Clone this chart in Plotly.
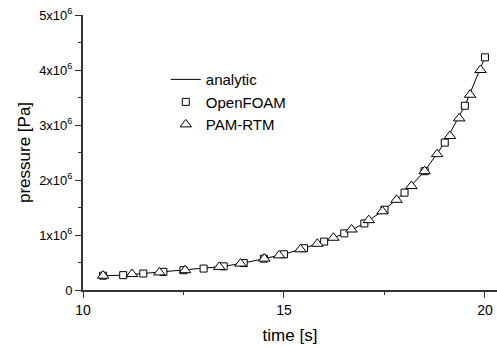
import plotly.graph_objects as go

# analytic curve
t_analytic = [10.5, 11.0, 11.5, 12.0, 12.5, 13.0, 13.5, 14.0, 14.5, 15.0, 15.5, 16.0,
              16.5, 17.0, 17.5, 18.0, 18.5, 19.0, 19.5, 20.0]
p_analytic = [0.26e6, 0.27e6, 0.30e6, 0.33e6, 0.36e6, 0.39e6, 0.43e6, 0.49e6, 0.57e6, 0.65e6,
              0.76e6, 0.88e6, 1.03e6, 1.21e6, 1.46e6, 1.77e6, 2.16e6, 2.68e6, 3.35e6, 4.23e6]

# OpenFOAM
t_foam = [10.5, 11.0, 11.5, 12.0, 12.5, 13.0, 13.5, 14.0, 14.5, 15.0, 15.5, 16.0,
          16.5, 17.0, 17.5, 18.0, 18.5, 19.0, 19.5, 20.0]
p_foam = [0.26e6, 0.27e6, 0.30e6, 0.33e6, 0.36e6, 0.39e6, 0.43e6, 0.49e6, 0.57e6, 0.65e6,
          0.76e6, 0.88e6, 1.03e6, 1.21e6, 1.46e6, 1.77e6, 2.16e6, 2.68e6, 3.35e6, 4.23e6]

# PAM-RTM
t_pam = [10.5, 11.22, 11.9, 12.54, 13.39, 13.92, 14.51, 14.88, 15.41, 15.83, 16.23, 16.68,
         17.11, 17.45, 17.8, 18.17, 18.5, 18.81, 19.13, 19.36, 19.63, 19.89]
p_pam = [0.26e6, 0.29e6, 0.32e6, 0.36e6, 0.42e6, 0.48e6, 0.57e6, 0.63e6, 0.74e6, 0.84e6,
         0.95e6, 1.10e6, 1.27e6, 1.43e6, 1.64e6, 1.89e6, 2.16e6, 2.47e6, 2.80e6, 3.12e6,
         3.55e6, 4.00e6]

x_ticks = [10, 15, 20]
y_ticks = [0, 1e6, 2e6, 3e6, 4e6, 5e6]
y_ticktext = ["0", "1x10<sup>6</sup>", "2x10<sup>6</sup>", "3x10<sup>6</sup>",
              "4x10<sup>6</sup>", "5x10<sup>6</sup>"]

fig = go.Figure()
fig.add_trace(go.Scatter(x=t_analytic, y=p_analytic, mode="lines", name="analytic",
                         line=dict(color="black", width=1)))
fig.add_trace(go.Scatter(x=t_foam, y=p_foam, mode="markers", name="OpenFOAM",
                         marker=dict(symbol="square", size=7, color="white",
                                     line=dict(color="black", width=1))))
fig.add_trace(go.Scatter(x=t_pam, y=p_pam, mode="markers", name="PAM-RTM",
                         marker=dict(symbol="triangle-up", size=10, color="white",
                                     line=dict(color="black", width=1))))

font = "Liberation Sans, Arial, sans-serif"
fig.update_layout(
    width=497, height=347,
    margin=dict(l=83, r=0, t=15, b=57),
    paper_bgcolor="white", plot_bgcolor="white",
    font=dict(family=font, size=13, color="black"),
    showlegend=True,
    legend=dict(x=0.2, y=0.825, xanchor="left", yanchor="top",
                bgcolor="rgba(0,0,0,0)", font=dict(size=15), tracegroupgap=0,
                itemwidth=30),
    xaxis=dict(range=[10, 20.3], tickvals=x_ticks, ticktext=[str(v) for v in x_ticks],
               showgrid=False, zeroline=False, showline=True, linecolor="#333",
               linewidth=1.5, ticks="outside", ticklen=6, tickwidth=1, tickcolor="#333",
               tickfont=dict(size=14),
               minor=dict(tickvals=[12.5, 17.5], ticks="outside", ticklen=3,
                          tickcolor="#333", showgrid=False),
               title=dict(text="time [s]", font=dict(size=17), standoff=13)),
    yaxis=dict(range=[0, 5e6], tickvals=y_ticks, ticktext=y_ticktext,
               showgrid=False, zeroline=False, showline=True, linecolor="#333",
               linewidth=2, ticks="outside", ticklen=6, tickwidth=1, tickcolor="#333",
               tickfont=dict(size=13),
               minor=dict(tickvals=[0.5e6, 1.5e6, 2.5e6, 3.5e6, 4.5e6], ticks="outside",
                          ticklen=3, tickcolor="#333", showgrid=False),
               title=dict(text="pressure [Pa]", font=dict(size=17), standoff=4)),
)
fig.write_html("out.html")
